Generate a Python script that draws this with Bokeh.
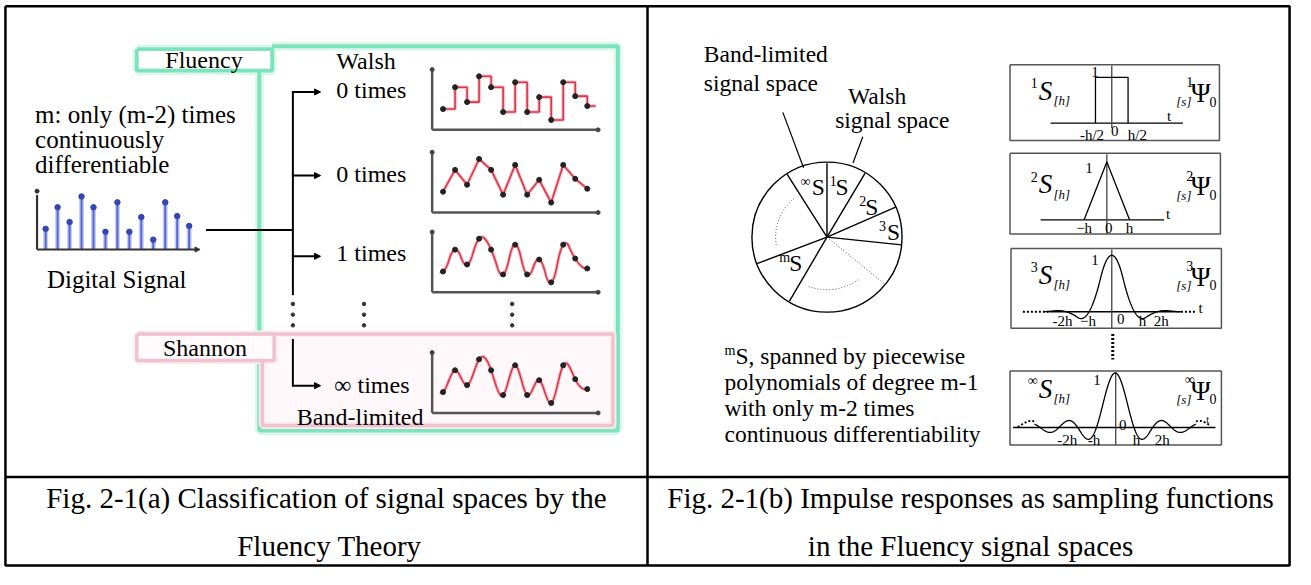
import numpy as np
from bokeh.plotting import figure
from bokeh.models import Range1d, Arrow, NormalHead
from bokeh.embed import file_html
from bokeh.resources import INLINE
from bokeh.core.properties import value

# ---------------- data ----------------
samples = [2.1, 4.3, 2.8, 5.4, 4.3, 1.8, 4.8, 1.8, 3.3, 1.0, 4.8, 3.4, 2.4]
sample_index = list(range(len(samples)))
branch_labels = ["Walsh", "0 times", "0 times", "1 times", "\u221e times", "Band-limited"]
left_note = ["m: only (m-2) times", "continuously", "differentiable"]
right_note = ["S, spanned by piecewise", "polynomials of degree m-1",
              "with only m-2 times", "continuous differentiability"]
caption_a = ["Fig. 2-1(a) Classification of signal spaces by the", "Fluency Theory"]
caption_b = ["Fig. 2-1(b) Impulse responses as sampling functions", "in the Fluency signal spaces"]
sector_angles = [90, 122, 59.6, 23.9, -6, 201, 240]
sector_labels = ["\u221e", "1", "2", "3", "m"]
impulse_orders = ["1", "2", "3", "\u221e"]
tick_labels_1 = ["-h/2", "0", "h/2"]
tick_labels_2 = ["\u2212h", "0", "h"]
tick_labels_3 = ["-2h", "\u2212h", "0", "h", "2h"]
tick_labels_4 = ["-2h", "-h", "h", "2h"]

SERIF = value("Liberation Serif")

# data coordinates = pixel coordinates of the 1311 x 585 picture
p = figure(width=1295, height=569, x_range=Range1d(0, 1311), y_range=Range1d(585, 0),
           output_backend="svg", toolbar_location=None, min_border=0,
           x_axis_type=None, y_axis_type=None)
p.grid.visible = False
p.outline_line_color = None
p.background_fill_color = "white"


def txt(x, y, s, size=23.5, align="left", style="normal", color="black", baseline="middle"):
    p.text(x=[x], y=[y], text=[s], text_font=SERIF, text_font_size=f"{size}px",
           text_align=align, text_baseline=baseline, text_font_style=style, text_color=color)


def seg(x0, y0, x1, y1, color="black", width=2.0, dash="solid"):
    p.segment(x0=[x0], y0=[y0], x1=[x1], y1=[y1], line_color=color, line_width=width, line_dash=dash)


def arrow(x0, y0, x1, y1, width=2.0, size=7, color="black"):
    p.add_layout(Arrow(end=NormalHead(size=size, fill_color=color, line_color=color),
                       x_start=x0, y_start=y0, x_end=x1, y_end=y1,
                       line_color=color, line_width=width))


def rect_lines(l, t, r, b, color, width):
    p.multi_line(xs=[[l, r, r, l, l]], ys=[[t, t, b, b, t]], line_color=color, line_width=width)

# ---------------- frame ----------------
rect_lines(5, 6, 1305, 581, "black", 2.5)
seg(655, 6, 655, 581, width=2.5)
seg(5, 490, 1305, 490, width=2.5)

# ---------------- left panel: coloured boxes ----------------
GREEN, GREEN_H = "#7ce3bd", "#dbf8ed"
PINK, PINK_H = "#f0c2d0", "#fbecf1"
p.quad(left=[264], right=[620], top=[344], bottom=[437], fill_color="#fef8fa", line_color=None)
for col, w in ((GREEN_H, 9), (GREEN, 4)):
    p.multi_line(xs=[[275, 625, 625, 262, 262]], ys=[[47, 47, 442, 442, 72]], line_color=col, line_width=w)
    rect_lines(138, 50, 275, 72, col, w)
for col, w in ((PINK_H, 7), (PINK, 3.5)):
    p.multi_line(xs=[[277, 620, 620, 265, 265]], ys=[[343, 343, 437, 437, 370]], line_color=col, line_width=w)
    rect_lines(138, 343, 277, 370, col, w)
p.quad(left=[140], right=[273], top=[52], bottom=[70], fill_color="white", line_color=None)
p.quad(left=[140], right=[275], top=[345], bottom=[368], fill_color="#fffbfc", line_color=None)

txt(206, 61, "Fluency", size=24, align="center")
txt(207, 357, "Shannon", size=24, align="center")
for i, s in enumerate(left_note):
    txt(35, [117, 143, 169][i], s, size=25)
txt(47, 287, "Digital Signal", size=25)

# ---------------- digital signal stems ----------------
seg(37, 256, 37, 200, color="#333333", width=2.2)
arrow(37, 256, 202, 256, width=2.2, size=5, color="#333333")
p.scatter(x=[37], y=[196], size=4, color="#333333")
stem = p.subplot(x_source=Range1d(0, 12), y_source=Range1d(0, 10),
                 x_target=Range1d(45.7, 191), y_target=Range1d(256, 155))
stem.segment(x0=sample_index, y0=[0] * len(samples), x1=sample_index, y1=samples,
             line_color="#c9cdf5", line_width=5)
stem.segment(x0=sample_index, y0=[0] * len(samples), x1=sample_index, y1=samples,
             line_color="#5566d6", line_width=2)
stem.scatter(x=sample_index, y=samples, size=5.5, color="#3646b0")

# ---------------- tree ----------------
seg(208, 236, 296, 236)
seg(296, 94, 296, 303)
seg(296, 348, 296, 396)
for yy in (94, 180, 263, 396):
    arrow(295, yy, 324, yy, width=2, size=6)
p.scatter(x=[296, 296, 296, 368, 368, 368, 518, 518, 518],
          y=[312, 323, 334, 312, 323, 334, 312, 323, 334], size=3.5, color="#333333")

for s, (x, y) in zip(branch_labels, [(340, 62), (340, 92), (340, 178), (340, 260), (338, 395), (300, 428)]):
    txt(x, y, s, size=24)

# ---------------- interpolation kernels ----------------
def bspline2(t):
    a = np.abs(t)
    return np.where(a < 0.5, 0.75 - a ** 2, np.where(a < 1.5, 0.5 * (1.5 - a) ** 2, 0.0))


def bspline3(t):
    a = np.abs(t)
    return np.where(a < 1, 2 / 3 - a ** 2 + a ** 3 / 2, np.where(a < 2, (2 - a) ** 3 / 6, 0.0))

K = np.arange(-20, 21)
e0 = (K == 0).astype(float)
coef2 = np.linalg.solve(bspline2(K[:, None] - K[None, :]), e0)
coef3 = np.linalg.solve(bspline3(K[:, None] - K[None, :]), e0)


def fluency3(t):
    t = np.asarray(t, dtype=float)
    return sum(c * bspline2(t - k) for c, k in zip(coef2, K))


def fluency4(t):
    t = np.asarray(t, dtype=float)
    return sum(c * bspline3(t - k) for c, k in zip(coef3, K))


s_arr = np.array(samples)
idx = np.array(sample_index, dtype=float)
mean_s = s_arr.mean()
tt = np.linspace(idx[0] - 0.25, idx[-1] + 0.05, 500)
smooth1 = mean_s + sum((v - mean_s) * fluency3(tt - k) for v, k in zip(s_arr, idx))
smooth_inf = mean_s + sum((v - mean_s) * fluency4(tt - k) for v, k in zip(s_arr, idx))

bases = [133, 218, 300, 424]
RED, RED_H = "#d8384a", "#f6bcc4"
for j, base in enumerate(bases):
    top = base - 62
    seg(437, base, 437, top, color="#555555", width=2.5)
    seg(437, base, 605, base, color="#555555", width=2.5)
    p.scatter(x=[437, 605], y=[top, base], size=4, color="#444444")
    sp = p.subplot(x_source=Range1d(0, 12), y_source=Range1d(0, 10),
                   x_target=Range1d(448, 594), y_target=Range1d(base, base - 102))
    if j == 0:
        xs = list(idx) + [idx[-1] + 0.7]
        ys = list(s_arr) + [s_arr[-1]]
        for col, w in ((RED_H, 3.5), (RED, 1.6)):
            sp.step(x=xs, y=ys, mode="after", line_color=col, line_width=w)
    elif j == 1:
        for col, w in ((RED_H, 3.5), (RED, 1.6)):
            sp.line(x=sample_index, y=samples, line_color=col, line_width=w)
    else:
        curve = smooth1 if j == 2 else smooth_inf
        for col, w in ((RED_H, 3.5), (RED, 1.6)):
            sp.line(x=tt, y=curve, line_color=col, line_width=w)
    sp.scatter(x=sample_index, y=samples, size=5, color="#222222")

# ---------------- right panel: circle ----------------
cx, cy, R = 836.7, 243.3, 76
p.circle(x=[cx], y=[cy], radius=R, fill_color=None, line_color="black", line_width=1.4)
for a in sector_angles:
    r = np.radians(a)
    seg(cx, cy, cx + R * np.cos(r), cy - R * np.sin(r), width=1.4)
r = np.radians(-39.5)
seg(cx, cy, cx + R * np.cos(r), cy - R * np.sin(r), color="#555555", width=1, dash="1 2")
for a0, a1, rr in ((130, 190, 52), (250, 308, 54)):
    th = np.radians(np.linspace(a0, a1, 60))
    p.line(x=cx + rr * np.cos(th), y=cy - rr * np.sin(th), line_color="#555555", line_width=1, line_dash="1 2")

for sup, (xs_, xS, y) in zip(sector_labels, [(815, 828, 192), (843, 852, 192), (873, 882, 212),
                                             (893, 904, 238), (794, 805, 270)]):
    txt(xs_, y - 6, sup, size=14, align="center")
    txt(xS, y, "S", size=23.5, align="center")

seg(813, 172, 792, 115, width=1.2)
seg(863, 167, 873, 140, width=1.2)
txt(712, 55, "Band-limited")
txt(712, 85, "signal space")
txt(858, 98, "Walsh")
txt(845, 123, "signal space")

txt(733, 360, "m", size=14)
for i, s in enumerate(right_note):
    txt(744 if i == 0 else 733, [366, 392, 419, 446][i], s)

# ---------------- impulse response boxes ----------------
boxes = [(1022, 66, 1234, 144), (1022, 157, 1235, 240), (1023, 255, 1236, 337), (1022, 381, 1236, 457)]
for (l, t, r_, b) in boxes:
    rect_lines(l, t, r_, b, "#555555", 1.5)

label_y = [93, 189, 282, 399]
for order, sy in zip(impulse_orders, label_y):
    txt(1050, sy - 8, order, size=14, align="right")
    txt(1051, sy, "S", size=27, style="italic")
    txt(1066, sy + 10, "[h]", size=13, style="italic")
    txt(1204, sy - 9, order, size=14, align="center")
    txt(1198, sy + 11, "[s]", size=13, style="italic", align="center")
    txt(1215, sy + 2, "\u03a8", size=27, align="center")
    txt(1224, sy + 11, "0", size=14)

# box 1: rectangular pulse
seg(1063, 126, 1197, 126, width=1.3)
seg(1125, 67, 1125, 131, color="#444444", width=1.3)
b1 = p.subplot(x_source=Range1d(-1, 1), y_source=Range1d(0, 1),
               x_target=Range1d(1125 - 33, 1125 + 33), y_target=Range1d(126, 79))
half = 0.5
b1.line(x=[-half, -half, half, half], y=[0, 1, 1, 0], line_color="black", line_width=1.3)
txt(1108, 73, "1", size=15, align="center")
txt(1183, 119, "t", size=15, align="center")
for s, x in zip(tick_labels_1, (1105, 1128, 1151)):
    txt(x, 138 if s != "0" else 134, s, size=15, align="center")

# box 2: triangle
seg(1053, 225.5, 1178, 225.5, width=1.3)
seg(1120, 158, 1120, 240, color="#444444", width=1.3)
b2 = p.subplot(x_source=Range1d(-1, 1), y_source=Range1d(0, 1),
               x_target=Range1d(1120 - 23, 1120 + 23), y_target=Range1d(225.5, 166))
tri_t = np.linspace(-1, 1, 3)
b2.line(x=tri_t, y=np.maximum(0, 1 - np.abs(tri_t)), line_color="black", line_width=1.3)
txt(1102, 172, "1", size=15, align="center")
txt(1182, 220, "t", size=15, align="center")
for s, x in zip(tick_labels_2, (1097, 1122, 1143)):
    txt(x, 234, s, size=15, align="center")

# box 3: quadratic fluency sampling function
seg(1062, 320, 1195, 320, width=1.3)
seg(1035, 320, 1062, 320, width=2, dash="2 2")
seg(1195, 320, 1211, 320, width=2, dash="2 2")
seg(1125, 256, 1125, 337, color="#444444", width=1.3)
b3 = p.subplot(x_source=Range1d(-1, 1), y_source=Range1d(0, 1),
               x_target=Range1d(1125 - 23, 1125 + 23), y_target=Range1d(320, 262))
t3 = np.linspace(-3, 3, 400)
b3.line(x=t3, y=fluency3(t3), line_color="black", line_width=1.3)
txt(1108, 267, "1", size=15, align="center")
txt(1215, 316, "t", size=15, align="center")
for s, x in zip(tick_labels_3, (1075, 1101, 1134, 1156, 1175)):
    txt(x, 330 if s != "0" else 327, s, size=15, align="center")

# dotted connector
seg(1126, 343, 1126, 369, width=3, dash="2 2")

# box 4: sinc
seg(1025, 439, 1230, 439, width=1.3)
seg(1129, 382, 1129, 457, color="#444444", width=1.3)
b4 = p.subplot(x_source=Range1d(-1, 1), y_source=Range1d(0, 1),
               x_target=Range1d(1128.5 - 19, 1128.5 + 19), y_target=Range1d(439, 383))
t4 = np.linspace(-4.3, 4.3, 500)
b4.line(x=t4, y=np.sinc(t4), line_color="black", line_width=1.3)
for lo, hi in ((-5.2, -4.3), (4.3, 5.1)):
    tl = np.linspace(lo, hi, 30)
    b4.line(x=tl, y=np.sinc(tl) + 0.05, line_color="black", line_width=1.8, line_dash="2 2")
txt(1110, 390, "1", size=15, align="center")
txt(1136, 436, "0", size=15, align="center")
for s, x in zip(tick_labels_4, (1080, 1107, 1150, 1176)):
    txt(x, 452, s, size=15, align="center")
txt(1222, 431, "t", size=10, align="center")

# ---------------- captions ----------------
txt(330, 512, caption_a[0], size=29, align="center")
txt(333, 561, caption_a[1], size=29, align="center")
txt(982, 512, caption_b[0], size=29, align="center")
txt(982, 561, caption_b[1], size=29, align="center")

open("out.html", "w").write(file_html(p, INLINE))
